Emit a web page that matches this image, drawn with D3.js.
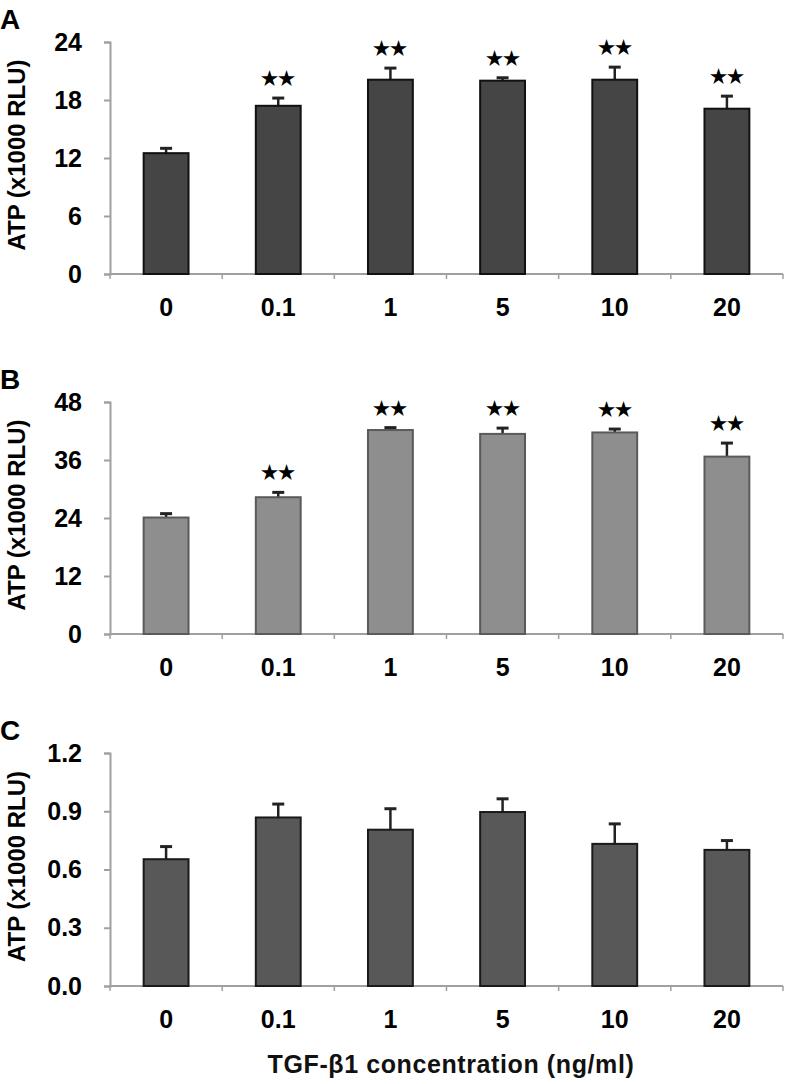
<!DOCTYPE html>
<html>
<head>
<meta charset="utf-8">
<script src="https://cdn.jsdelivr.net/npm/d3@7"></script>
<style>
  body { margin: 0; background: #fff; }
  svg { display: block; }
  text { font-family: "Liberation Sans", Arial, sans-serif; font-weight: bold; }
</style>
</head>
<body>
<svg id="chart" width="792" height="1084"></svg>
<script>
// concentrations of TGF-b1 (ng/ml)
const categories = ["0", "0.1", "1", "5", "10", "20"];

// panel A
const valuesA = [12.5, 17.4, 20.1, 20.0, 20.1, 17.1];
const errorsA = [0.5, 0.8, 1.2, 0.3, 1.3, 1.3];
const starsA = [false, true, true, true, true, true];
const ticksA = [0, 6, 12, 18, 24];

// panel B
const valuesB = [24.1, 28.3, 42.2, 41.4, 41.7, 36.7];
const errorsB = [0.8, 1.0, 0.5, 1.2, 0.7, 2.8];
const starsB = [false, true, true, true, true, true];
const ticksB = [0, 12, 24, 36, 48];

// panel C
const valuesC = [0.653, 0.868, 0.805, 0.896, 0.732, 0.701];
const errorsC = [0.065, 0.069, 0.108, 0.068, 0.103, 0.048];
const starsC = [false, false, false, false, false, false];
const ticksC = [0, 0.3, 0.6, 0.9, 1.2];

const svg = d3.select("#chart");
const left = 110, right = 783;

const panels = [
  {label: "A", top: 42, zero: 274, values: valuesA, errors: errorsA, stars: starsA, ticks: ticksA,
   fmt: d3.format("d"), fill: "#454545", stroke: "#111"},
  {label: "B", top: 402, zero: 634, values: valuesB, errors: errorsB, stars: starsB, ticks: ticksB,
   fmt: d3.format("d"), fill: "#8e8e8e", stroke: "#5a5a5a"},
  {label: "C", top: 753, zero: 986, values: valuesC, errors: errorsC, stars: starsC, ticks: ticksC,
   fmt: d3.format(".1f"), fill: "#585858", stroke: "#1a1a1a"}
];

const x = d3.scaleBand()
    .domain(categories)
    .range([left, right])
    .paddingInner(0.6)
    .paddingOuter(0.3);

panels.forEach(p => {
  const y = d3.scaleLinear()
      .domain([0, d3.max(p.ticks)])
      .range([p.zero, p.top]);

  const g = svg.append("g");

  // panel letter
  g.append("text")
      .attr("x", 0)
      .attr("y", p.top - 13)
      .attr("font-size", 28)
      .attr("fill", "#000")
      .text(p.label);

  // y axis
  const yAxis = g.append("g")
      .attr("transform", "translate(" + left + ",0)")
      .call(d3.axisLeft(y).tickValues(p.ticks).tickFormat(p.fmt).tickSize(6).tickPadding(22));
  yAxis.select(".domain").attr("stroke", "#a0a0a0").attr("stroke-width", 2);
  yAxis.selectAll(".tick line").attr("stroke", "#a0a0a0").attr("stroke-width", 2);
  yAxis.selectAll(".tick text")
      .attr("font-size", 25)
      .attr("font-family", "Liberation Sans, Arial, sans-serif")
      .attr("font-weight", "bold")
      .attr("fill", "#000");

  // x axis: gray baseline with small ticks between categories
  const boundaries = d3.range(categories.length + 1).map(i => left + i * x.step());
  g.append("line")
      .attr("x1", left).attr("x2", right)
      .attr("y1", p.zero).attr("y2", p.zero)
      .attr("stroke", "#a0a0a0").attr("stroke-width", 2);
  g.selectAll(".xtick")
    .data(boundaries)
    .enter().append("line")
      .attr("x1", d => d).attr("x2", d => d)
      .attr("y1", p.zero).attr("y2", p.zero + 5)
      .attr("stroke", "#a0a0a0").attr("stroke-width", 1.5);

  g.selectAll(".xlabel")
    .data(categories)
    .enter().append("text")
      .attr("x", d => x(d) + x.bandwidth() / 2)
      .attr("y", p.zero + 42)
      .attr("text-anchor", "middle")
      .attr("font-size", 25)
      .attr("fill", "#000")
      .text(d => d);

  // y axis title
  g.append("text")
      .attr("transform", "translate(25," + ((p.top + p.zero) / 2 - 3) + ") rotate(-90)")
      .attr("text-anchor", "middle")
      .attr("font-size", 24)
      .attr("fill", "#000")
      .text("ATP (x1000 RLU)");

  // error bars (upper only)
  const errs = g.selectAll(".err")
    .data(categories)
    .enter().append("g");
  errs.append("line")
      .attr("x1", d => x(d) + x.bandwidth() / 2)
      .attr("x2", d => x(d) + x.bandwidth() / 2)
      .attr("y1", (d, i) => y(p.values[i]))
      .attr("y2", (d, i) => y(p.values[i] + p.errors[i]))
      .attr("stroke", "#222").attr("stroke-width", 2.5);
  errs.append("line")
      .attr("x1", d => x(d) + x.bandwidth() / 2 - 6)
      .attr("x2", d => x(d) + x.bandwidth() / 2 + 6)
      .attr("y1", (d, i) => y(p.values[i] + p.errors[i]))
      .attr("y2", (d, i) => y(p.values[i] + p.errors[i]))
      .attr("stroke", "#222").attr("stroke-width", 3);

  // bars
  g.selectAll(".bar")
    .data(categories)
    .enter().append("rect")
      .attr("x", d => x(d))
      .attr("width", x.bandwidth())
      .attr("y", (d, i) => y(p.values[i]))
      .attr("height", (d, i) => p.zero - y(p.values[i]))
      .attr("fill", p.fill)
      .attr("stroke", p.stroke)
      .attr("stroke-width", 2);

  // significance marks
  g.selectAll(".star")
    .data(categories.filter((d, i) => p.stars[i]))
    .enter().append("text")
      .attr("x", d => x(d) + x.bandwidth() / 2)
      .attr("y", d => {
        const i = categories.indexOf(d);
        return y(p.values[i] + p.errors[i]) - 13;
      })
      .attr("text-anchor", "middle")
      .attr("font-size", 19)
      .attr("font-family", "DejaVu Sans, sans-serif")
      .attr("fill", "#000")
      .text("★★");
});

// shared x axis title
svg.append("text")
    .attr("x", 451)
    .attr("y", 1073)
    .attr("text-anchor", "middle")
    .attr("font-size", 25)
    .attr("letter-spacing", 0.6)
    .attr("fill", "#111")
    .text("TGF-β1 concentration (ng/ml)");
</script>
</body>
</html>
